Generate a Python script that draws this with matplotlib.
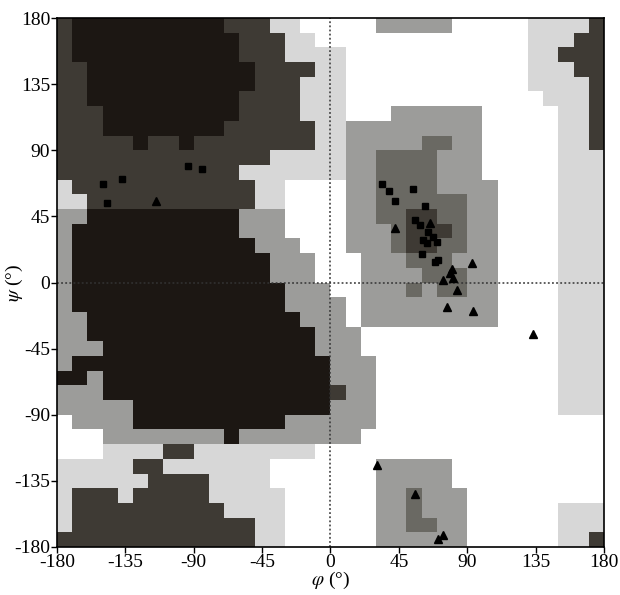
import numpy as np
import matplotlib
matplotlib.use("Agg")
import matplotlib.pyplot as plt
from matplotlib.colors import ListedColormap, BoundaryNorm

plt.rcParams['mathtext.fontset'] = 'stix'

# Density levels per 10x10 degree cell, rows from psi=180 (top) down to psi=-180,
# columns from phi=-180 to phi=180. 0=white ... 5=darkest
grid_rows = [
    "455555555554441100" + "000222220000011114",
    "455555555555444110" + "000000000000011144",
    "455555555555444111" + "100000000000011444",
    "445555555555544441" + "100000000000011144",
    "445555555555544411" + "100000000000011114",
    "445555555555444411" + "100000000000001114",
    "444555555555444411" + "100022222200000114",
    "444555555554444441" + "122222222200000114",
    "444445445444444441" + "122222332200000114",
    "444444444444441111" + "122333322200000111",
    "444444444444111111" + "122333322200000111",
    "144444444444411000" + "022333322220000111",
    "114444444444411000" + "022333333220000111",
    "225555555555222000" + "022334433220000111",
    "255555555555222000" + "022234443220000111",
    "255555555555522200" + "022234433220000111",
    "255555555555552220" + "002223332220000111",
    "255555555555552220" + "002222333220000111",
    "255555555555555222" + "002223233220000111",
    "255555555555555222" + "202222222220000111",
    "225555555555555522" + "202222222220000111",
    "225555555555555552" + "220000000000000111",
    "222555555555555552" + "220000000000000111",
    "255555555555555555" + "222000000000000111",
    "552555555555555555" + "222000000000000111",
    "222555555555555555" + "422000000000000111",
    "222225555555555555" + "222000000000000111",
    "022225555555555222" + "222000000000000000",
    "000222222225222222" + "220000000000000000",
    "000111144111111110" + "000000000000000000",
    "111114411111110000" + "000222220000000000",
    "111111444411110000" + "000222220000000000",
    "144414444411111000" + "000223222000000000",
    "144444444441111000" + "000223222000000111",
    "144444444444411000" + "000223322000000111",
    "444444444444411000" + "000222222000000114",
]

level_colors = ["#ffffff", "#d7d7d7", "#9c9c9a", "#6a6963", "#3e3a34", "#1c1713"]

# residue points (phi, psi)
sq_phi = [33.7, 38.7, 42.4, 54.5, 62.2, 70.3, 60.0, 68.8, 71.0, 55.6, 59.0, 64.4, 61.0, 67.7, 63.3,
          -93.6, -84.8, -149.5, -137.4, -147.3]
sq_psi = [67.0, 62.3, 55.7, 63.4, 52.3, 27.8, 19.4, 14.2, 15.0, 42.5, 39.0, 34.6, 29.0, 31.2, 26.7,
          79.5, 77.2, 67.0, 70.2, 54.3]

tri_phi = [42.4, 65.5, 92.9, 79.8, 74.2, 80.8, 83.0, 76.5, 94.0, 78.6, 133.5, 30.8, 55.6, 74.2, 71.0, -114.9]
tri_psi = [37.3, 40.3, 13.5, 9.0, 1.7, 2.9, -5.1, -16.9, -19.2, 6.3, -35.0, -124.2, -143.9, -171.8, -174.8, 55.7]

ticks = [-180, -135, -90, -45, 0, 45, 90, 135, 180]

for r in grid_rows:
    assert len(r) == 36, r
Z = np.array([[int(c) for c in r] for r in grid_rows])
phi_edges = np.linspace(-180, 180, Z.shape[1] + 1)
psi_edges = np.linspace(180, -180, Z.shape[0] + 1)

cmap = ListedColormap(level_colors)
norm = BoundaryNorm(np.arange(-0.5, len(level_colors) + 0.5, 1), cmap.N)

fig = plt.figure(figsize=(6.2, 5.95), dpi=100)
ax = fig.add_axes([0.092, 0.0807, 0.882, 0.889])
ax.pcolormesh(phi_edges, psi_edges, Z, cmap=cmap, norm=norm, shading='flat')

ax.axvline(0, color='#333333', ls=(0, (1.2, 1.5)), lw=1.1)
ax.axhline(0, color='#333333', ls=(0, (1.2, 1.5)), lw=1.1)

ax.plot(sq_phi, sq_psi, 's', color='black', ms=4.8, ls='none')
ax.plot(tri_phi, tri_psi, '^', color='black', ms=5.8, ls='none')

ax.set_xlim(-180, 180)
ax.set_ylim(-180, 180)
ax.set_xticks(ticks)
ax.set_yticks(ticks)
ax.set_xticklabels([str(t) for t in ticks], fontfamily='Liberation Serif', fontsize=14)
ax.set_yticklabels([str(t) for t in ticks], fontfamily='Liberation Serif', fontsize=14)
ax.tick_params(direction='out', length=4, width=1, color='black', pad=1)
for s in ax.spines.values():
    s.set_linewidth(1.2)
    s.set_color('black')

ax.set_xlabel(r'$\varphi$ (°)', fontfamily='Liberation Serif', fontsize=14, labelpad=-1)
ax.set_ylabel(r'$\psi$ (°)', fontfamily='Liberation Serif', fontsize=14)
ax.yaxis.set_label_coords(-0.058, 0.5)

fig.savefig('out.png', dpi=100)
